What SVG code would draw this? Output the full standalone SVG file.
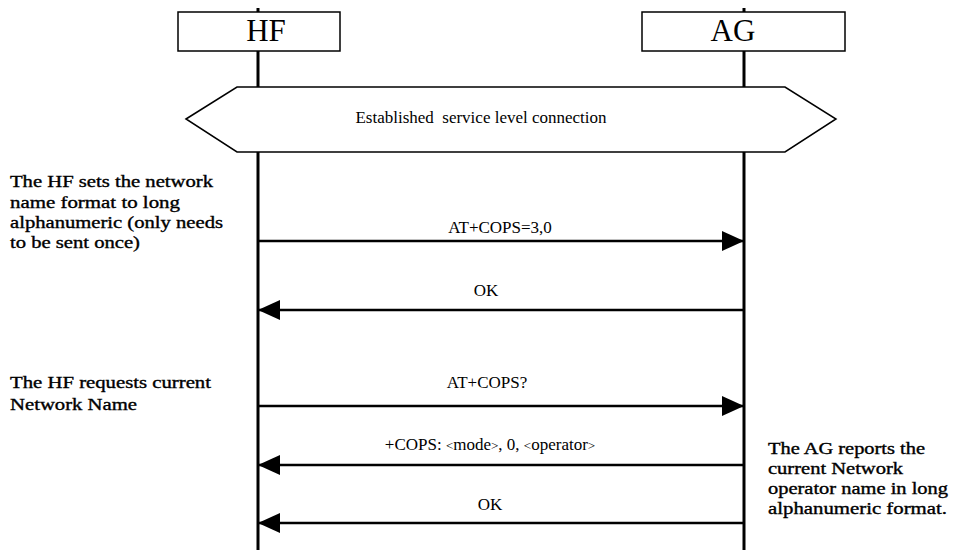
<svg xmlns="http://www.w3.org/2000/svg" width="953" height="550" viewBox="0 0 953 550">
<style>
.box{fill:#fff;stroke:#000;stroke-width:1.5}
.life{stroke:#000;stroke-width:3}
.msg{stroke:#000;stroke-width:2.5;fill:none}
.hdr{font-family:"Liberation Serif",serif;font-size:31px;text-anchor:middle;fill:#000}
.lbl{font-family:"Liberation Serif",serif;font-size:17px;text-anchor:middle;fill:#000}
.note{font-family:"Liberation Serif",serif;font-size:16px;fill:#000;stroke:#000;stroke-width:0.35}
</style>
<defs>
<marker id="ah" markerWidth="22" markerHeight="20" refX="22" refY="10" orient="auto" markerUnits="userSpaceOnUse">
<path d="M0,0 L22,10 L0,20 Z" fill="#000"/>
</marker>
</defs>
<g id="lifelines">
<line class="life" x1="258" y1="8" x2="258" y2="550"/>
<line class="life" x1="744" y1="8" x2="744" y2="550"/>
</g>
<g id="HF">
<rect class="box" x="178" y="12" width="162" height="39"/>
<text class="hdr" x="266" y="41">HF</text>
</g>
<g id="AG">
<rect class="box" x="642" y="12" width="203" height="39"/>
<text class="hdr" x="733" y="41">AG</text>
</g>
<g id="slc">
<polygon class="box" points="186,119 237,87 785,87 836,119 785,152 237,152"/>
<text class="lbl" x="481" y="123" xml:space="preserve">Established  service level connection</text>
</g>
<g id="connectors">
<line class="msg" x1="258" y1="241" x2="744" y2="241" marker-end="url(#ah)"/>
<line class="msg" x1="744" y1="310" x2="258" y2="310" marker-end="url(#ah)"/>
<line class="msg" x1="258" y1="406" x2="744" y2="406" marker-end="url(#ah)"/>
<line class="msg" x1="744" y1="465" x2="258" y2="465" marker-end="url(#ah)"/>
<line class="msg" x1="744" y1="523" x2="258" y2="523" marker-end="url(#ah)"/>
</g>
<g id="labels">
<text class="lbl" x="500" y="233">AT+COPS=3,0</text>
<text class="lbl" x="486" y="296">OK</text>
<text class="lbl" x="487" y="388">AT+COPS?</text>
<text class="lbl" x="490" y="450">+COPS: <tspan font-size="13">&lt;</tspan>mode<tspan font-size="13">&gt;</tspan>, 0, <tspan font-size="13">&lt;</tspan>operator<tspan font-size="13">&gt;</tspan></text>
<text class="lbl" x="490" y="510">OK</text>
</g>
<g id="note1">
<text class="note" x="10" y="187" textLength="203" lengthAdjust="spacingAndGlyphs">The HF sets the network</text>
<text class="note" x="10" y="208" textLength="170" lengthAdjust="spacingAndGlyphs">name format to long</text>
<text class="note" x="10" y="228" textLength="213" lengthAdjust="spacingAndGlyphs">alphanumeric (only needs</text>
<text class="note" x="10" y="248" textLength="130" lengthAdjust="spacingAndGlyphs">to be sent once)</text>
</g>
<g id="note2">
<text class="note" x="10" y="388" textLength="201" lengthAdjust="spacingAndGlyphs">The HF requests current</text>
<text class="note" x="10" y="410" textLength="127" lengthAdjust="spacingAndGlyphs">Network Name</text>
</g>
<g id="note3">
<text class="note" x="768" y="454" textLength="157" lengthAdjust="spacingAndGlyphs">The AG reports the</text>
<text class="note" x="768" y="474" textLength="135" lengthAdjust="spacingAndGlyphs">current Network</text>
<text class="note" x="768" y="494" textLength="180" lengthAdjust="spacingAndGlyphs">operator name in long</text>
<text class="note" x="768" y="514" textLength="179" lengthAdjust="spacingAndGlyphs">alphanumeric format.</text>
</g>
</svg>
